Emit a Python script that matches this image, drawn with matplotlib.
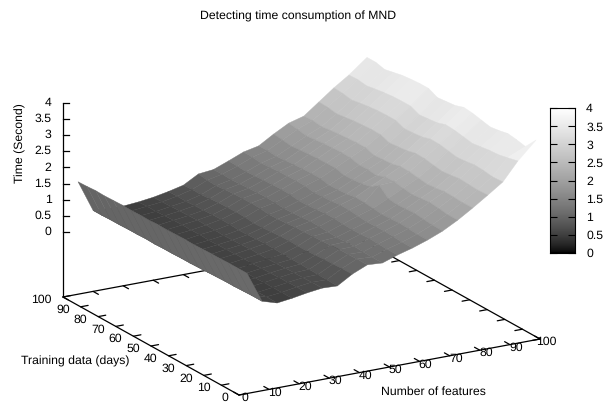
import numpy as np
import matplotlib
matplotlib.use('Agg')
import matplotlib.pyplot as plt
from matplotlib.collections import PolyCollection
from matplotlib.colors import PowerNorm

plt.rcParams['font.family'] = ['Liberation Sans', 'DejaVu Sans']
plt.rcParams['text.hinting'] = 'none'

features = [5, 10, 15, 20, 25, 30, 35, 40, 45, 50, 55, 60, 65, 70, 75, 80, 85, 90, 95, 101]
days = [100, 95, 90, 85, 80, 75, 70, 65, 60, 55, 50, 45, 40, 35, 30, 25, 20, 15, 10, 4]

# one row per training-days value
seconds = [
    [1.47, .50, .47, .46, .50, .56, .65, .76, 1.02, 1.07, 1.25, 1.44, 1.54, 1.82, 2.07, 2.20, 2.55, 2.90, 3.21, 3.65],
    [1.48, .50, .47, .47, .52, .57, .66, .78, .98, 1.08, 1.24, 1.43, 1.55, 1.79, 2.03, 2.22, 2.54, 2.88, 3.22, 3.65],
    [1.50, .51, .46, .47, .51, .58, .65, .77, .96, 1.06, 1.22, 1.40, 1.52, 1.75, 1.98, 2.18, 2.49, 2.83, 3.18, 3.58],
    [1.49, .51, .47, .48, .53, .59, .67, .80, .99, 1.08, 1.24, 1.42, 1.55, 1.78, 2.01, 2.22, 2.53, 2.88, 3.23, 3.64],
    [1.50, .52, .46, .48, .54, .60, .68, .82, 1.01, 1.10, 1.26, 1.44, 1.57, 1.80, 2.04, 2.25, 2.57, 2.92, 3.27, 3.70],
    [1.51, .52, .47, .49, .55, .61, .69, .83, 1.02, 1.11, 1.27, 1.45, 1.59, 1.82, 2.06, 2.27, 2.59, 2.95, 3.30, 3.73],
    [1.50, .53, .46, .49, .54, .61, .70, .84, 1.03, 1.12, 1.28, 1.46, 1.60, 1.83, 2.07, 2.29, 2.61, 2.96, 3.31, 3.75],
    [1.51, .52, .46, .48, .55, .60, .69, .83, 1.02, 1.11, 1.27, 1.45, 1.60, 1.83, 2.06, 2.29, 2.60, 2.96, 3.31, 3.75],
    [1.50, .53, .47, .48, .53, .59, .67, .80, .98, 1.08, 1.23, 1.40, 1.54, 1.76, 1.99, 2.20, 2.50, 2.85, 3.19, 3.62],
    [1.52, .53, .46, .49, .54, .60, .68, .81, .99, 1.09, 1.24, 1.42, 1.55, 1.77, 2.00, 2.22, 2.53, 2.87, 3.22, 3.65],
    [1.51, .54, .47, .49, .55, .61, .69, .83, 1.01, 1.11, 1.26, 1.43, 1.57, 1.80, 1.96, 2.24, 2.56, 2.90, 3.25, 3.68],
    [1.52, .54, .46, .50, .56, .63, .71, .85, 1.04, 1.14, 1.29, 1.47, 1.62, 1.86, 2.08, 2.31, 2.63, 2.98, 3.34, 3.77],
    [1.53, .55, .47, .50, .56, .62, .70, .86, 1.05, 1.13, 1.29, 1.46, 1.61, 2.05, 2.08, 2.30, 2.62, 2.97, 3.32, 3.74],
    [1.52, .56, .46, .50, .56, .62, .69, .85, 1.06, 1.11, 1.27, 1.43, 1.58, 1.80, 2.03, 2.26, 2.57, 2.92, 3.27, 3.68],
    [1.53, .57, .46, .51, .57, .63, .68, .85, 1.07, 1.10, 1.25, 1.40, 1.55, 1.76, 1.99, 2.22, 2.53, 2.87, 3.22, 3.62],
    [1.54, .58, .47, .51, .58, .64, .68, .87, 1.09, 1.11, 1.26, 1.41, 1.56, 1.78, 2.02, 2.25, 2.56, 2.90, 3.26, 3.66],
    [1.54, .58, .46, .52, .59, .65, .67, .89, 1.11, 1.12, 1.28, 1.42, 1.58, 1.80, 2.05, 2.29, 2.60, 2.94, 3.30, 3.72],
    [1.55, .59, .46, .52, .59, .65, .66, .90, 1.11, 1.10, 1.26, 1.40, 1.56, 1.77, 2.02, 2.28, 2.58, 2.92, 3.32, 3.68],
    [1.55, .60, .47, .52, .60, .66, .65, .91, 1.12, 1.09, 1.25, 1.38, 1.54, 1.74, 1.98, 2.26, 2.56, 2.88, 3.38, 3.62],
    [1.55, .60, .46, .52, .60, .66, .64, .92, 1.12, 1.09, 1.25, 1.38, 1.54, 1.73, 1.98, 2.27, 2.58, 2.90, 3.46, 4.00],
]

axis_ticks = [0, 10, 20, 30, 40, 50, 60, 70, 80, 90, 100]
time_ticks = [0, 0.5, 1, 1.5, 2, 2.5, 3, 3.5, 4]
time_labels = ['0', '0.5', '1', '1.5', '2', '2.5', '3', '3.5', '4']

Z_FLOOR = -2
FONT = 8.8


def project(x, y, z=Z_FLOOR):
    # fixed orthographic view, result is in figure pixels
    px = 239 + 3.01 * x - 1.76 * y
    py = 395 - 0.56 * x - 0.98 * y - 32.4 * (z - Z_FLOOR)
    return px, py


def edge(ax, start, end):
    ax.plot(*zip(start, end), color='black', lw=0.9, solid_capstyle='round', zorder=1)


fig = plt.figure(figsize=(6.05, 4.03), dpi=100, facecolor='white')
ax = fig.add_axes([0, 0, 1, 1])
ax.set_xlim(0, 605)
ax.set_ylim(403, 0)
ax.axis('off')

# floor of the box
edge(ax, project(0, 0), project(100, 0))
edge(ax, project(0, 0), project(0, 100))
edge(ax, project(100, 0), project(100, 100))
edge(ax, project(0, 100), project(100, 100))
edge(ax, project(0, 100), project(0, 100, 4))

for t in axis_ticks:
    edge(ax, project(t, 0), project(t, 3))
    edge(ax, project(t, 100), project(t, 97))
    edge(ax, project(0, t), project(2.5, t))
    edge(ax, project(100, t), project(97.5, t))
    px, py = project(t, 0)
    ax.text(px + 6, py + 3, str(t), fontsize=FONT, ha='center', va='center')
    px, py = project(0, t)
    ax.text(px - 11, py + 3, str(t), fontsize=FONT, ha='right', va='center')

for t, label in zip(time_ticks, time_labels):
    px, py = project(0, 100, t)
    ax.plot([px, px + 6], [py, py], color='black', lw=0.9, zorder=1)
    ax.text(px - 11.5, py, label, fontsize=FONT, ha='right', va='center')

# surface, far facets first so the near ones cover them
norm = PowerNorm(gamma=2 / 3, vmin=0, vmax=4)
polys = []
means = []
for j in range(len(days) - 1):
    for i in range(len(features) - 2, -1, -1):
        corners = [(i, j), (i + 1, j), (i + 1, j + 1), (i, j + 1)]
        polys.append([project(features[a], days[b], seconds[b][a]) for a, b in corners])
        means.append(np.mean([seconds[b][a] for a, b in corners]))

surface = PolyCollection(polys, array=np.array(means), cmap='gray', norm=norm,
                         edgecolors='face', linewidths=0.3, zorder=2)
ax.add_collection(surface)

ax.text(298.5, 16, 'Detecting time consumption of MND', fontsize=FONT, ha='center', va='center')
ax.text(20, 143, 'Time (Second)', fontsize=FONT, rotation=90, ha='center', va='center')
ax.text(75, 361, 'Training data (days)', fontsize=FONT, ha='center', va='center')
ax.text(433, 392, 'Number of features', fontsize=FONT, ha='center', va='center')

# colour box
cax = fig.add_axes([550 / 605, 1 - 253 / 403, 25 / 605, 145 / 403])
gradient = np.linspace(0, 4, 256).reshape(-1, 1)
cax.imshow(gradient, origin='lower', aspect='auto', extent=[0, 1, 0, 4], cmap='gray', norm=norm)
cax.set_xticks([])
cax.set_yticks(time_ticks)
cax.set_yticklabels(time_labels, fontsize=FONT)
cax.yaxis.tick_right()
cax.tick_params(axis='y', direction='in', length=5, width=0.8, pad=8, left=True, right=True)
for spine in cax.spines.values():
    spine.set_linewidth(0.8)

plt.savefig('out.png', dpi=100)
